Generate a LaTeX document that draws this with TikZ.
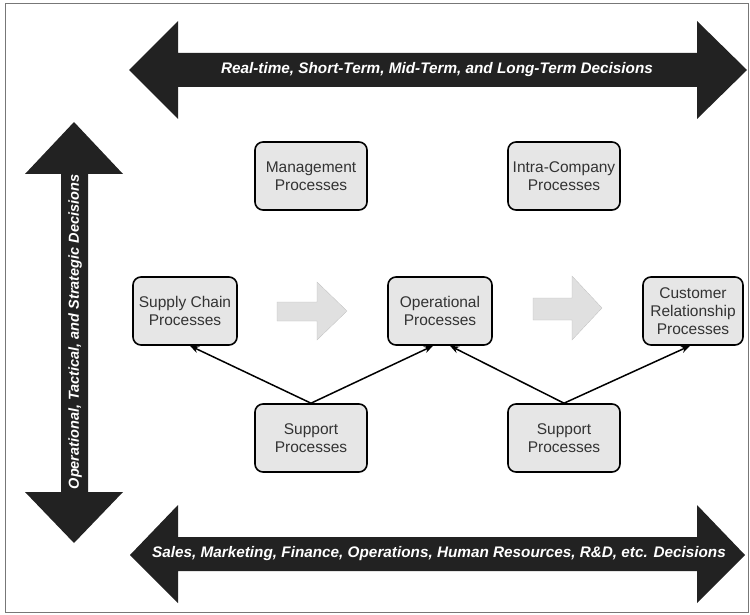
\documentclass[tikz,border=0pt]{standalone}
\usepackage{fontspec}
\setmainfont{Liberation Sans}
\usetikzlibrary{arrows.meta}
\definecolor{boxgray}{HTML}{E6E6E6}
\definecolor{textgray}{HTML}{333333}
\definecolor{bandblack}{HTML}{222222}
\definecolor{flowgray}{HTML}{E0E0E0}
\definecolor{framegray}{HTML}{777777}
\begin{document}
\begin{tikzpicture}[x=1pt,y=-1pt,
    proc/.style={draw=black,line width=1.6pt,rounded corners=8pt,fill=boxgray,
      minimum width=112pt,minimum height=68pt,align=center,text=textgray,
      font=\fontsize{15.5}{18}\selectfont,inner sep=1pt},
    narrow/.style={minimum width=104pt},
    band/.style={fill=bandblack},
    bandtext/.style={text=white,font=\fontsize{15.3}{18}\selectfont\bfseries\itshape},
    flow/.style={fill=flowgray,draw=flowgray!85!black,line width=0.3pt},
    link/.style={-{Stealth[length=9pt,width=7pt]},line width=1.5pt}]
  \useasboundingbox (0,0) rectangle (750,615);
  \draw[framegray,line width=1pt] (5,4) rectangle (748,612);

  % decision bands
  \fill[band] (129,70) -- (178,21) -- (178,53) -- (697,53) -- (697,21) -- (747,70)
    -- (697,119) -- (697,87) -- (178,87) -- (178,119) -- cycle;
  \fill[band] (130,555) -- (178,505) -- (178,537) -- (697,537) -- (697,505) -- (745,555)
    -- (697,603) -- (697,571) -- (178,571) -- (178,603) -- cycle;
  \fill[band] (74,122) -- (123,174) -- (88,174) -- (88,492) -- (123,492) -- (74,543)
    -- (25,492) -- (61,492) -- (61,174) -- (25,174) -- cycle;
  \node[bandtext] (horizon) at (437,70) {Real-time, Short-Term, Mid-Term, and Long-Term Decisions};
  \node[bandtext] (functions) at (439,554) {Sales, Marketing, Finance, Operations, Human Resources, R\&D, etc. Decisions};
  \node[bandtext,font=\fontsize{14.5}{17}\selectfont\bfseries\itshape,rotate=90] (levels) at (75,332) {Operational, Tactical, and Strategic Decisions};

  % process boxes
  \draw
    (311,176) node[proc] (mgmt) {Management\\Processes}
    (564,176) node[proc] (intra) {Intra-Company\\Processes}
    (185,311) node[proc,narrow] (supply) {Supply Chain\\Processes}
    (440,311) node[proc,narrow] (oper) {Operational\\Processes}
    (693,311) node[proc,minimum width=100pt] (cust) {Customer\\Relationship\\Processes}
    (311,438) node[proc] (supA) {Support\\Processes}
    (564,438) node[proc] (supB) {Support\\Processes};

  % flow between the main processes
  \draw[flow] (277,302) -- (317,302) -- (317,282) -- (347,311) -- (317,340)
    -- (317,321) -- (277,321) -- cycle;
  \draw[flow] (533,298) -- (572,298) -- (572,276) -- (602,308) -- (572,340)
    -- (572,320) -- (533,320) -- cycle;

  \begin{scope}[link]
    \draw (supA.north) to ([xshift=5pt]supply.south);
    \draw (supA.north) to ([xshift=-7pt]oper.south);
    \draw (supB.north) to ([xshift=10pt]oper.south);
    \draw (supB.north) to ([xshift=-3pt]cust.south);
  \end{scope}
\end{tikzpicture}
\end{document}
